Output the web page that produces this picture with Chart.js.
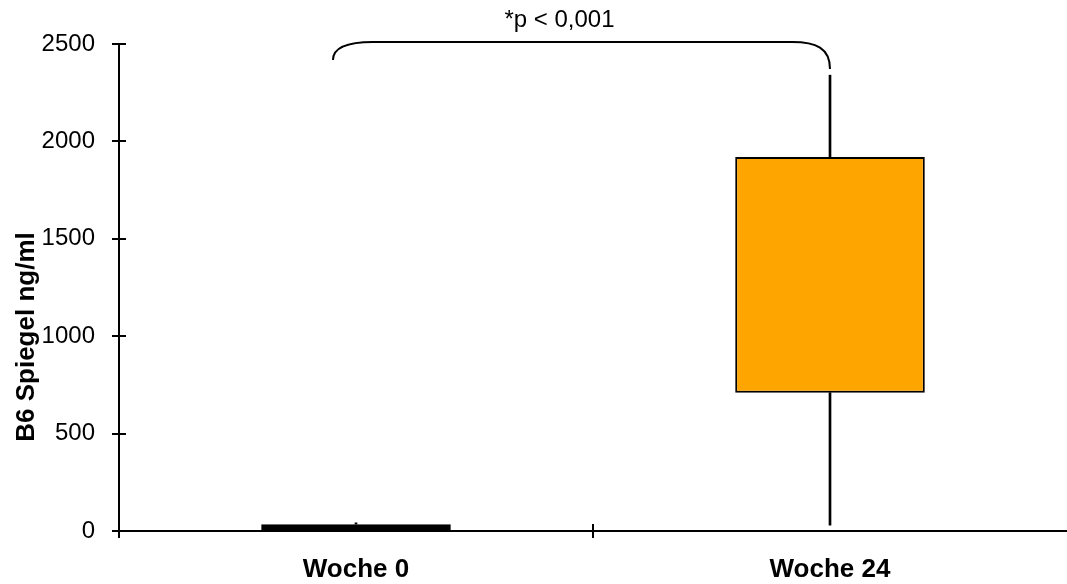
<!DOCTYPE html>
<html>
<head>
<meta charset="utf-8">
<script src="https://cdn.jsdelivr.net/npm/chart.js@4"></script>
<style>
  html, body { margin: 0; padding: 0; background: #fff; }
  #wrap { width: 1067px; height: 584px; }
</style>
</head>
<body>
<div id="wrap"><canvas id="c" width="1067" height="584"></canvas></div>
<script>
// B6 levels per visit (ng/ml): five-number summary per group
const categories = ['Woche 0', 'Woche 24'];
const minVals = [3, 30];
const q1Vals = [5, 710];
const q3Vals = [35, 1920];
const maxVals = [42, 2340];
const yTicks = [0, 500, 1000, 1500, 2000, 2500];
const yTitle = 'B6 Spiegel ng/ml';
const pLabel = '*p < 0,001';

const FONT = "'Liberation Sans', Arial, sans-serif";

const boxData = categories.map((_, i) => [q1Vals[i], q3Vals[i]]);
const lowerWhisker = categories.map((_, i) => [minVals[i], q1Vals[i]]);
const upperWhisker = categories.map((_, i) => [q3Vals[i], maxVals[i]]);

// Axis tick marks crossing the axis lines, the rotated y title and the significance brace
const decorations = {
  id: 'decorations',
  afterDraw(chart) {
    const ctx = chart.ctx;
    const xs = chart.scales.x;
    const ys = chart.scales.y;
    const area = chart.chartArea;
    ctx.save();
    ctx.strokeStyle = '#000';
    ctx.lineWidth = 2;
    ctx.lineCap = 'butt';

    // y ticks
    yTicks.forEach(v => {
      const py = Math.round(ys.getPixelForValue(v));
      ctx.beginPath();
      ctx.moveTo(area.left - 7, py);
      ctx.lineTo(area.left + 7, py);
      ctx.stroke();
    });
    // x ticks between categories
    const bounds = [area.left];
    for (let i = 1; i < categories.length; i++) {
      bounds.push((xs.getPixelForValue(i - 1) + xs.getPixelForValue(i)) / 2);
    }
    bounds.forEach(px => {
      const x = Math.round(px);
      ctx.beginPath();
      ctx.moveTo(x, area.bottom - 7);
      ctx.lineTo(x, area.bottom + 7);
      ctx.stroke();
    });

    // brace spanning both groups
    const xl = xs.getPixelForValue(0) - 23;
    const xr = xs.getPixelForValue(1);
    const yTop = 42;
    ctx.beginPath();
    ctx.moveTo(xl, 60);
    ctx.bezierCurveTo(xl, 47, xl + 16, yTop, xl + 40, yTop);
    ctx.lineTo(xr - 38, yTop);
    ctx.bezierCurveTo(xr - 14, yTop, xr, 48, xr, 69);
    ctx.stroke();

    ctx.fillStyle = '#000';
    ctx.font = '24px ' + FONT;
    ctx.textAlign = 'center';
    ctx.textBaseline = 'alphabetic';
    ctx.fillText(pLabel, (xl + xr) / 2 - 22, 27);

    // y axis title
    ctx.translate(34, 337);
    ctx.rotate(-Math.PI / 2);
    ctx.font = 'bold 26px ' + FONT;
    ctx.textAlign = 'center';
    ctx.textBaseline = 'alphabetic';
    ctx.fillText(yTitle, 0, 0);
    ctx.restore();
  }
};

new Chart(document.getElementById('c'), {
  type: 'bar',
  data: {
    labels: categories,
    datasets: [
      {
        label: 'box',
        data: boxData,
        backgroundColor: '#FFA500',
        borderColor: '#000',
        borderWidth: [3, 2],
        borderSkipped: false,
        grouped: false,
        categoryPercentage: 0.8,
        barPercentage: 0.5,
        order: 0
      },
      {
        label: 'lower',
        data: lowerWhisker,
        backgroundColor: '#000',
        borderWidth: 0,
        grouped: false,
        barThickness: 2,
        order: 1
      },
      {
        label: 'upper',
        data: upperWhisker,
        backgroundColor: '#000',
        borderWidth: 0,
        grouped: false,
        barThickness: 2,
        order: 1
      }
    ]
  },
  options: {
    responsive: false,
    animation: false,
    layout: { padding: { left: 0, right: 0, top: 44, bottom: 0 } },
    plugins: {
      legend: { display: false },
      tooltip: { enabled: false }
    },
    scales: {
      x: {
        grid: { display: false, drawTicks: false },
        border: { display: true, color: '#000', width: 2 },
        ticks: {
          color: '#000',
          font: { family: FONT, size: 26, weight: 'bold' },
          padding: 23,
          maxRotation: 0
        },
        afterFit(scale) { scale.height = 53; }
      },
      y: {
        min: 0,
        max: 2500,
        grid: { display: false, drawTicks: false },
        border: { display: true, color: '#000', width: 2 },
        ticks: {
          stepSize: 500,
          color: '#000',
          font: { family: FONT, size: 24 },
          padding: 24,
          callback: v => String(v)
        },
        afterFit(scale) { scale.width = 119; }
      }
    }
  },
  plugins: [decorations]
});
</script>
</body>
</html>
